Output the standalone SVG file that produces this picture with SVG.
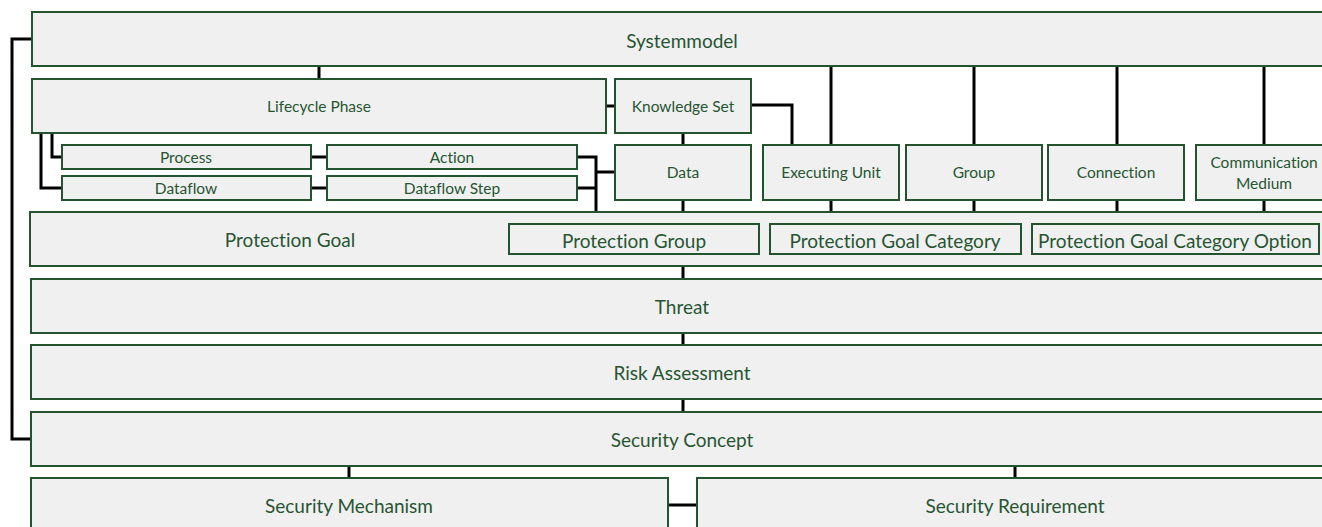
<svg xmlns="http://www.w3.org/2000/svg" width="1322" height="527" viewBox="0 0 1322 527">
<style>
.b{fill:#f0f0f0;stroke:#24532f;stroke-width:2}
.t{font-family:Lato,"Liberation Sans",sans-serif;fill:#275532;text-anchor:middle;dominant-baseline:central;font-variant-ligatures:none}
.s14{font-size:15.5px}.s17{font-size:19px}
.c{fill:none;stroke:#000;stroke-width:3;stroke-linejoin:miter}
</style>
<rect width="1322" height="527" fill="#fff"/>
<g id="connectors">
<path class="c" d="M32 39H12V439H30"/>
<path class="c" d="M319 66V79"/>
<path class="c" d="M52 133V157H62"/>
<path class="c" d="M41 133V188H62"/>
<path class="c" d="M311 157H327"/>
<path class="c" d="M311 188H327"/>
<path class="c" d="M577 157H596V212"/>
<path class="c" d="M577 188H596"/>
<path class="c" d="M596 172H615"/>
<path class="c" d="M606 106H615"/>
<path class="c" d="M751 105H792V145"/>
<path class="c" d="M683 133V145"/>
<path class="c" d="M831 66V145"/>
<path class="c" d="M974 66V145"/>
<path class="c" d="M1117 66V145"/>
<path class="c" d="M1264 66V145"/>
<path class="c" d="M683 200V212"/>
<path class="c" d="M831 200V212"/>
<path class="c" d="M974 200V212"/>
<path class="c" d="M1117 200V212"/>
<path class="c" d="M1264 200V212"/>
<path class="c" d="M683 266V279"/>
<path class="c" d="M683 332V345"/>
<path class="c" d="M683 399V412"/>
<path class="c" d="M349 465V478"/>
<path class="c" d="M1015 465V478"/>
<path class="c" d="M668 505H697"/>
</g>
<g id="systemmodel"><rect class="b" x="32" y="12" width="1310" height="54"/><text class="t s17" x="682" y="40">Systemmodel</text></g>
<g id="lifecycle-phase"><rect class="b" x="32" y="79" width="574" height="54"/><text class="t s14" x="319" y="106">Lifecycle Phase</text></g>
<g id="knowledge-set"><rect class="b" x="615" y="79" width="136" height="54"/><text class="t s14" x="683" y="106">Knowledge Set</text></g>
<g id="process"><rect class="b" x="62" y="145" width="249" height="24"/><text class="t s14" x="186" y="157">Process</text></g>
<g id="action"><rect class="b" x="327" y="145" width="250" height="24"/><text class="t s14" x="452" y="157">Action</text></g>
<g id="dataflow"><rect class="b" x="62" y="176" width="249" height="24"/><text class="t s14" x="186" y="188">Dataflow</text></g>
<g id="dataflow-step"><rect class="b" x="327" y="176" width="250" height="24"/><text class="t s14" x="452" y="188">Dataflow Step</text></g>
<g id="data"><rect class="b" x="615" y="145" width="136" height="55"/><text class="t s14" x="683" y="172">Data</text></g>
<g id="executing-unit"><rect class="b" x="763" y="145" width="136" height="55"/><text class="t s14" x="831" y="172">Executing Unit</text></g>
<g id="group"><rect class="b" x="906" y="145" width="136" height="55"/><text class="t s14" x="974" y="172">Group</text></g>
<g id="connection"><rect class="b" x="1048" y="145" width="136" height="55"/><text class="t s14" x="1116" y="172">Connection</text></g>
<g id="communication-medium"><rect class="b" x="1196" y="145" width="140" height="55"/><text class="t s14" x="1264" y="162">Communication</text><text class="t s14" x="1264" y="183">Medium</text></g>
<g id="protection-goal"><rect class="b" x="30" y="212" width="1310" height="54"/><text class="t s17" x="290" y="239">Protection Goal</text></g>
<g id="protection-group"><rect class="b" x="509" y="224" width="250" height="30"/><text class="t s17" x="634" y="240">Protection Group</text></g>
<g id="protection-goal-category"><rect class="b" x="770" y="224" width="251" height="30"/><text class="t s17" x="895" y="240">Protection Goal Category</text></g>
<g id="protection-goal-category-option"><rect class="b" x="1032" y="224" width="287" height="30"/><text class="t s17" x="1175" y="240">Protection Goal Category Option</text></g>
<g id="threat"><rect class="b" x="31" y="279" width="1310" height="54"/><text class="t s17" x="682" y="306">Threat</text></g>
<g id="risk-assessment"><rect class="b" x="31" y="345" width="1310" height="54"/><text class="t s17" x="682" y="372">Risk Assessment</text></g>
<g id="security-concept"><rect class="b" x="31" y="412" width="1310" height="54"/><text class="t s17" x="682" y="439">Security Concept</text></g>
<g id="security-mechanism"><rect class="b" x="31" y="478" width="637" height="60"/><text class="t s17" x="349" y="505">Security Mechanism</text></g>
<g id="security-requirement"><rect class="b" x="697" y="478" width="640" height="60"/><text class="t s17" x="1015" y="505">Security Requirement</text></g>
</svg>
